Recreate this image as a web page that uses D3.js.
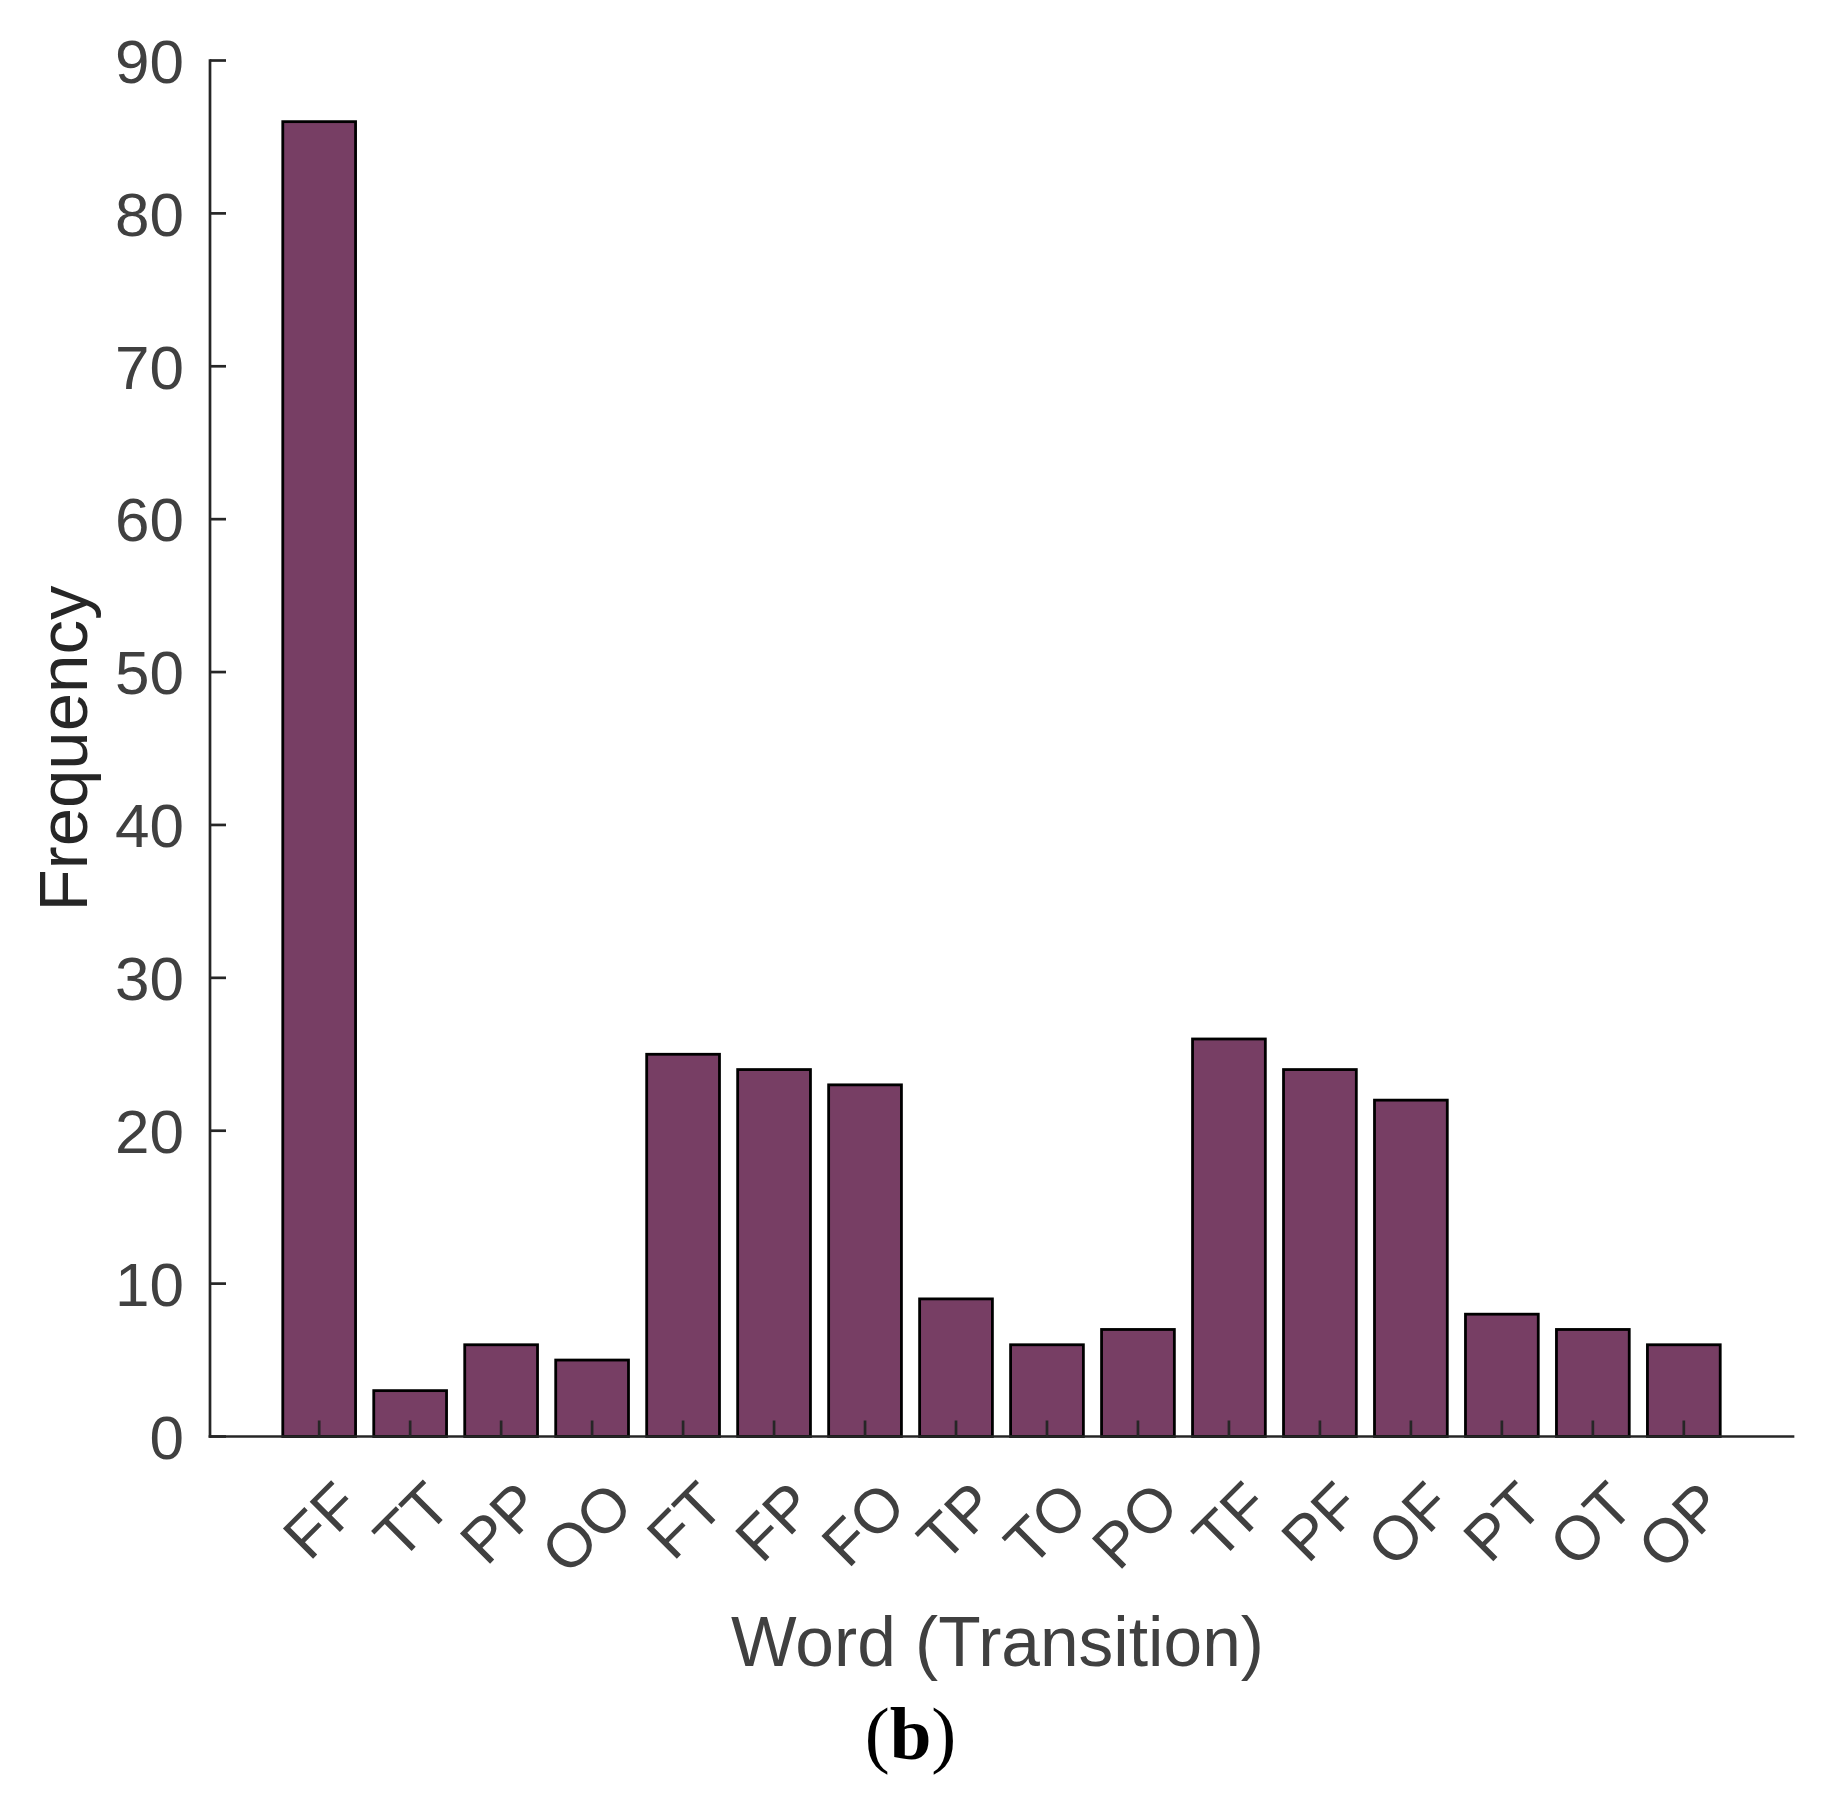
<!DOCTYPE html>
<html>
<head>
<meta charset="utf-8">
<script src="https://cdn.jsdelivr.net/npm/d3@7"></script>
<style>
  html, body { margin: 0; padding: 0; background: #ffffff; }
  svg { display: block; }
</style>
</head>
<body>
<script>
const categories = ["FF","TT","PP","OO","FT","FP","FO","TP","TO","PO","TF","PF","OF","PT","OT","OP"];
const frequencies = [86, 3, 6, 5, 25, 24, 23, 9, 6, 7, 26, 24, 22, 8, 7, 6];
const yTicks = [0, 10, 20, 30, 40, 50, 60, 70, 80, 90];
const xLabel = "Word (Transition)";
const yLabel = "Frequency";
const panelLetter = "b";

const W = 1821, H = 1793;
const svg = d3.select("body").append("svg").attr("width", W).attr("height", H);

const pLeft = 210, pRight = 1793, pTop = 60.5, pBottom = 1436.5;
const x = d3.scaleLinear().domain([-0.2, 17.2]).range([pLeft, pRight]);
const y = d3.scaleLinear().domain([0, 90]).range([pBottom, pTop]);
const barW = x(0.8) - x(0);

// bars
svg.append("g").selectAll("rect").data(categories).join("rect")
  .attr("x", (d, i) => x(i + 1) - barW / 2)
  .attr("y", (d, i) => y(frequencies[i]))
  .attr("width", barW)
  .attr("height", (d, i) => y(0) - y(frequencies[i]))
  .attr("fill", "#773E64")
  .attr("stroke", "#000000")
  .attr("stroke-width", 2.8);

const axisColor = "#262626";
const tickLen = 16;

// y axis
const yAxis = svg.append("g");
yAxis.append("line").attr("x1", pLeft).attr("x2", pLeft).attr("y1", y(0)).attr("y2", y(90))
  .attr("stroke", axisColor).attr("stroke-width", 2.7).attr("stroke-linecap", "square");
yAxis.selectAll("line.tk").data(yTicks).join("line").attr("class", "tk")
  .attr("x1", pLeft).attr("x2", pLeft + tickLen)
  .attr("y1", d => y(d)).attr("y2", d => y(d))
  .attr("stroke", axisColor).attr("stroke-width", 2.7);
yAxis.selectAll("text").data(yTicks).join("text")
  .attr("x", 184).attr("y", d => y(d)).attr("dy", "0.36em")
  .attr("text-anchor", "end")
  .attr("font-family", "'Liberation Sans', Arial, sans-serif")
  .attr("font-size", 62).attr("fill", "#404040")
  .text(d => d);

// x axis
const xAxis = svg.append("g");
xAxis.append("line").attr("x1", pLeft).attr("x2", pRight).attr("y1", y(0)).attr("y2", y(0))
  .attr("stroke", axisColor).attr("stroke-width", 2.7).attr("stroke-linecap", "square");
xAxis.selectAll("line.tk").data(categories).join("line").attr("class", "tk")
  .attr("x1", (d, i) => x(i + 1)).attr("x2", (d, i) => x(i + 1))
  .attr("y1", y(0)).attr("y2", y(0) - tickLen)
  .attr("stroke", axisColor).attr("stroke-width", 2.7);
xAxis.selectAll("text").data(categories).join("text")
  .attr("transform", (d, i) => `translate(${x(i + 1) + 28},${1493}) rotate(-45)`)
  .attr("dy", "0.36em")
  .attr("text-anchor", "end")
  .attr("font-family", "'Liberation Sans', Arial, sans-serif")
  .attr("font-size", 62).attr("fill", "#404040")
  .text(d => d);

// axis labels
svg.append("text")
  .attr("x", (pLeft + pRight) / 2 - 4).attr("y", 1666)
  .attr("text-anchor", "middle")
  .attr("font-family", "'Liberation Sans', Arial, sans-serif")
  .attr("font-size", 69.5).attr("fill", "#404040")
  .text(xLabel);

svg.append("text")
  .attr("transform", `translate(87,${(pTop + pBottom) / 2}) rotate(-90)`)
  .attr("text-anchor", "middle")
  .attr("font-family", "'Liberation Sans', Arial, sans-serif")
  .attr("font-size", 69).attr("fill", "#262626")
  .text(yLabel);

const pl = svg.append("text")
  .attr("x", W / 2).attr("y", 1759)
  .attr("text-anchor", "middle")
  .attr("font-family", "'Liberation Serif', 'Times New Roman', serif")
  .attr("font-size", 75).attr("fill", "#000000");
pl.append("tspan").text("(");
pl.append("tspan").attr("font-weight", "bold").text(panelLetter);
pl.append("tspan").text(")");
</script>
</body>
</html>
